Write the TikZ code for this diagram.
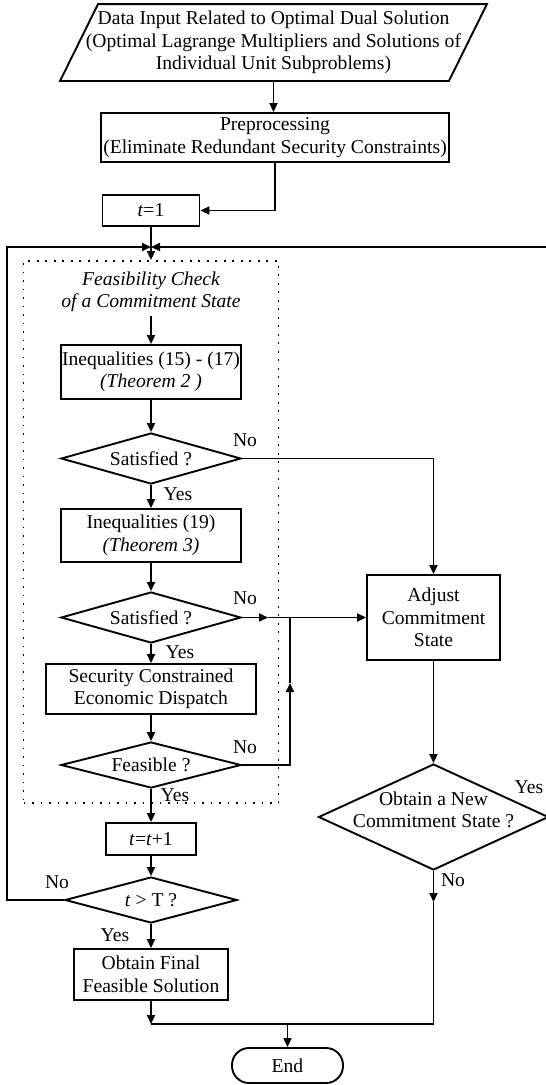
\documentclass[tikz,border=0pt]{standalone}
\usepackage{fontspec}
\setmainfont{Liberation Serif}
\usetikzlibrary{shapes.geometric,arrows.meta}

\begin{document}
\begin{tikzpicture}[
        x=1pt, y=-1pt,
        font=\fontsize{19.6}{22.5}\selectfont,
        line width=1.9pt,
        >={Triangle[length=9pt,width=8pt]},
        box/.style={rectangle, draw, align=center, inner sep=1pt},
        decision/.style={diamond, draw, aspect=3.5, inner sep=0pt, align=center},
        dataio/.style={rectangle, align=center, inner sep=0pt},
        term/.style={rectangle, draw, rounded corners=17pt, minimum width=111pt, minimum height=35pt},
        region/.style={draw, dash pattern=on 1.9pt off 6.6pt, line width=1.9pt},
        lbl/.style={inner sep=0pt}
    ]
        \useasboundingbox (0,0) rectangle (546,1085);
        \clip (0,0) rectangle (546,1085);

        % === Input and setup ===
        \node[dataio, minimum width=425pt, minimum height=75pt] (inp) at (273.5,42.5) {Data Input Related to Optimal Dual Solution\\(Optimal Lagrange Multipliers and Solutions of\\Individual Unit Subproblems)};
        \draw (inp.south west) -- ([xshift=38pt]inp.north west) -- (inp.north east) -- ([xshift=-38pt]inp.south east) -- cycle;
        \node[box, minimum width=348pt, minimum height=49pt] (pre) at (275,137.5) {Preprocessing\\(Eliminate Redundant Security Constraints)};
        \node[box, minimum width=97pt, minimum height=31pt] (t1) at (151,210.5) {\textit{t}=1};
        \coordinate (m) at (151,247);

        % === Feasibility check ===
        \node[region, minimum width=255pt, minimum height=542pt] (fc) at (151,532) {};
        \node[font=\fontsize{19.6}{22.5}\selectfont\itshape, align=center] (fct) at (151,292) {Feasibility Check\\of a Commitment State};
        \node[box, minimum width=180pt, minimum height=54pt] (ineqA) at (151,372) {Inequalities (15) - (17)\\\textit{(Theorem 2 )}};
        \node[decision, minimum width=180pt, minimum height=51pt] (satA) at (151,458.5) {Satisfied ?};
        \node[box, minimum width=180pt, minimum height=53pt] (ineqB) at (151,535.5) {Inequalities (19)\\\textit{(Theorem 3)}};
        \node[decision, minimum width=180pt, minimum height=51pt] (satB) at (151,617.5) {Satisfied ?};
        \node[box, minimum width=210pt, minimum height=50pt] (sced) at (151,689) {Security Constrained\\Economic Dispatch};
        \node[decision, minimum width=180pt, minimum height=46pt] (feas) at (151,765) {Feasible ?};

        % === Time loop and end ===
        \node[box, minimum width=90pt, minimum height=32pt] (tinc) at (151,839) {\textit{t}=\textit{t}+1};
        \node[decision, minimum width=172pt, minimum height=46pt] (tT) at (151,900) {\textit{t} > T ?};
        \node[box, minimum width=154pt, minimum height=51pt] (fin) at (151,974.5) {Obtain Final\\Feasible Solution};
        \node[term] (stop) at (287.5,1065.5) {End};

        % === Adjust branch ===
        \node[box, minimum width=133pt, minimum height=85pt] (adj) at (433.5,617.5) {Adjust\\Commitment\\State};
        \node[decision, minimum width=230pt, minimum height=106pt] (newst) at (433.5,817) {\smash{\makebox[0pt]{\begin{tabular}{@{}c@{}}Obtain a New\\Commitment State ?\end{tabular}}}};

        % === Labels ===
        \node[lbl] (noA) at (245,440) {No};
        \node[lbl] (yesA) at (178,494) {Yes};
        \node[lbl] (noB) at (245,598) {No};
        \node[lbl] (yesB) at (180,652) {Yes};
        \node[lbl] (noF) at (245,747) {No};
        \node[lbl] (yesF) at (175,795) {Yes};
        \node[lbl] (noT) at (57,882) {No};
        \node[lbl] (yesT) at (115,935) {Yes};
        \node[lbl] (yesN) at (529,787) {Yes};
        \node[lbl] (noN) at (453,880) {No};

        % === Connectors ===
        \coordinate (lft) at (7,247);
        \coordinate (rgt) at (553,247);
        \coordinate (j1) at (268,617.5);
        \coordinate (j2) at (290,617.5);
        \coordinate (j3) at (290,683);
        \coordinate (jr) at (433.5,902);
        \coordinate (cr) at (433.5,1024);
        \coordinate (cl) at (151,1024);
        \coordinate (bot) at (287.5,1024);

        \draw[->] (inp.south) -- (inp.south |- pre.north);
        \draw[->] (pre.south) |- (t1.east);
        \draw[->] (t1) -- (fc.north);
        \draw[->] (fct) -- (ineqA);
        \draw[->] (ineqA) -- (satA);
        \draw[->] (satA) -- (ineqB);
        \draw[->] (ineqB) -- (satB);
        \draw[->] (satB) -- (sced);
        \draw[->] (sced) -- (feas);
        \draw[->] (feas) -- (tinc);
        \draw[->] (tinc) -- (tT);
        \draw[->] (tT) -- (fin);
        \draw[->] (fin) -- (cl);
        \draw[->] (tT.west) -| (lft) -- (m);
        \draw[->] (newst.east) -| (rgt) -- (m);
        \draw[->] (satA.east) -| (adj.north);
        \draw[->] (satB.east) -- (j1);
        \draw[->] (j1) -- (adj.west);
        \draw[->] (feas.east) -| (j3);
        \draw (j3) -- (j2);
        \draw[->] (adj) -- (newst);
        \draw[->] (newst) -- (jr);
        \draw (jr) -- (cr) -- (cl);
        \draw[->] (bot) -- (stop);
    \end{tikzpicture}
\end{document}
